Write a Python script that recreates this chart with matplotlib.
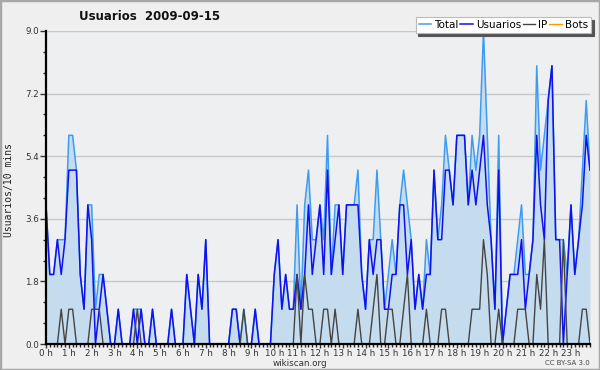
import numpy as np
import matplotlib.pyplot as plt
from matplotlib.patches import Rectangle
from matplotlib.ticker import MultipleLocator, FormatStrFormatter

# valores cada 10 minutos (144 puntos)
usuarios = [4, 2, 2, 3, 2, 3, 5, 5, 5, 2, 1, 4, 3, 0, 1, 2, 1, 0, 0, 1, 0, 0, 0, 1,
            0, 1, 0, 0, 1, 0, 0, 0, 0, 1, 0, 0, 0, 2, 1, 0, 2, 1, 3, 0, 0, 0, 0, 0,
            0, 1, 1, 0, 0, 0, 0, 1, 0, 0, 0, 0, 2, 3, 1, 2, 1, 1, 2, 1, 2, 4, 2, 3,
            4, 2, 5, 2, 3, 4, 2, 4, 4, 4, 4, 2, 1, 3, 2, 3, 3, 1, 1, 2, 2, 4, 4, 2,
            3, 1, 2, 1, 2, 2, 5, 3, 3, 5, 5, 4, 6, 6, 6, 4, 5, 4, 5, 6, 4, 3, 1, 5,
            0, 1, 2, 2, 2, 3, 1, 2, 3, 6, 4, 3, 7, 8, 3, 3, 0, 2, 4, 2, 3, 4, 6, 5]
ip = [0, 0, 0, 0, 1, 0, 1, 1, 0, 0, 0, 0, 1, 1, 1, 0, 0, 0, 0, 0, 0, 0, 0, 0,
      1, 0, 0, 0, 0, 0, 0, 0, 0, 0, 0, 0, 0, 0, 0, 0, 0, 0, 0, 0, 0, 0, 0, 0,
      0, 0, 0, 0, 1, 0, 0, 0, 0, 0, 0, 0, 0, 0, 0, 0, 0, 0, 2, 0, 2, 1, 1, 0,
      0, 1, 1, 0, 1, 0, 0, 0, 0, 0, 1, 0, 0, 0, 1, 2, 0, 0, 1, 1, 0, 0, 1, 2,
      0, 0, 0, 0, 1, 0, 0, 0, 1, 1, 0, 0, 0, 0, 0, 0, 1, 1, 1, 3, 2, 0, 0, 1,
      0, 0, 0, 0, 1, 1, 1, 0, 0, 2, 1, 3, 0, 0, 0, 0, 3, 0, 0, 0, 0, 1, 1, 0]
total = [4, 2, 2, 3, 3, 3, 6, 6, 5, 2, 1, 4, 4, 1, 2, 2, 1, 0, 0, 1, 0, 0, 0, 1,
         1, 1, 0, 0, 1, 0, 0, 0, 0, 1, 0, 0, 0, 2, 1, 0, 2, 1, 3, 0, 0, 0, 0, 0,
         0, 1, 1, 0, 1, 0, 0, 1, 0, 0, 0, 0, 2, 3, 1, 2, 1, 1, 4, 1, 4, 5, 3, 3,
         4, 3, 6, 2, 4, 4, 2, 4, 4, 4, 5, 2, 1, 3, 3, 5, 3, 1, 2, 3, 2, 4, 5, 4,
         3, 1, 2, 1, 3, 2, 5, 3, 4, 6, 5, 4, 6, 6, 6, 4, 6, 5, 6, 9, 6, 3, 1, 6,
         0, 1, 2, 2, 3, 4, 2, 2, 3, 8, 5, 6, 7, 8, 3, 3, 3, 2, 4, 2, 3, 5, 7, 5]
bots = [0] * 144
horas = [f"{h} h" for h in range(24)]

x = np.arange(144) / 6.0

fig = plt.figure(figsize=(6, 3.7), dpi=100)
fig.patch.set_facecolor('#efefef')
fig.patches.append(Rectangle((0, 0), 1, 1, transform=fig.transFigure, fill=False,
                             edgecolor='#a8a8a8', linewidth=2.5))
ax = fig.add_axes([46 / 600, 26 / 370, 544 / 600, 313 / 370])
ax.set_facecolor('#eeeff1')

ax.fill_between(x, total, color='#c5dcef', linewidth=0, zorder=1)
ax.plot(x, total, color='#3c9cf0', lw=1.1, label='Total', zorder=2)
ax.plot(x, usuarios, color='#1010f0', lw=1.1, label='Usuarios', zorder=2.1)
ax.plot(x, ip, color='#444444', lw=1.0, label='IP', zorder=2.2)
ax.plot(x, bots, color='#ff9900', lw=1.0, label='Bots', zorder=1.5)

ax.set_xlim(0, 143 / 6.0)
ax.set_ylim(0, 9)
ax.set_xticks(range(24))
ax.set_xticklabels(horas)
ax.xaxis.set_minor_locator(MultipleLocator(1 / 6.0))
ax.yaxis.set_major_locator(MultipleLocator(1.8))
ax.yaxis.set_minor_locator(MultipleLocator(0.6))
ax.yaxis.set_major_formatter(FormatStrFormatter('%.1f'))
ax.tick_params(axis='both', which='major', labelsize=6.3, colors='#333333',
               length=4, width=1, pad=1)
ax.tick_params(axis='both', which='minor', length=2.5, width=1, color='#222222')
ax.tick_params(axis='x', which='major', length=3, pad=0.5)
ax.grid(axis='y', color='#c8c8c8', lw=1)
ax.set_axisbelow(True)
for s in ['top', 'right']:
    ax.spines[s].set_visible(False)
for s in ['left', 'bottom']:
    ax.spines[s].set_linewidth(1.6)
    ax.spines[s].set_zorder(3)

fig.text(150 / 600, 1 - 16 / 370, 'Usuarios  2009-09-15', ha='center', va='center',
         fontsize=8.5, fontweight='bold', color='#111111')
fig.text(9 / 600, 1 - 190 / 370, 'Usuarios/10 mins', rotation=90, ha='center',
         va='center', fontsize=7, family='DejaVu Sans Mono', color='#222222')
fig.text(300 / 600, 1 - 363 / 370, 'wikiscan.org', ha='center', va='center',
         fontsize=6.3, color='#333333')
fig.text(590 / 600, 1 - 363 / 370, 'CC BY-SA 3.0', ha='right', va='center',
         fontsize=5, color='#444444')

leg = fig.legend(loc='upper right', bbox_to_anchor=(591 / 600, 1 - 17 / 370), ncol=4,
                 fontsize=7.5, handlelength=1.2, handletextpad=0.3, columnspacing=0.15,
                 borderpad=0.3, borderaxespad=0, fancybox=False, framealpha=1,
                 edgecolor='#bbbbbb', shadow={'color': '#555555', 'alpha': 1})
leg.get_frame().set_linewidth(0.8)

fig.savefig('out.png', dpi=100, facecolor=fig.get_facecolor())
